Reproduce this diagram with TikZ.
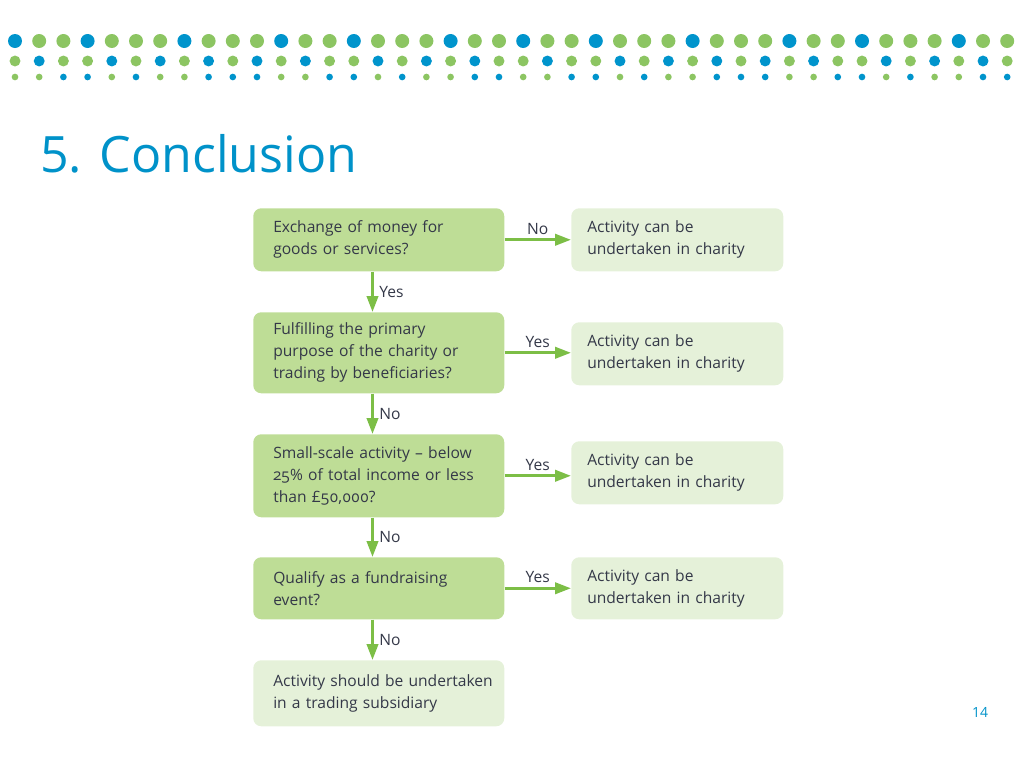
\documentclass[tikz,border=0pt]{standalone}
\usepackage{fontspec}
\setmainfont{Open Sans}[Numbers=OldStyle]
\newfontfamily\headfont{Open Sans}
\usetikzlibrary{arrows.meta}
\definecolor{dotblue}{RGB}{0,148,204}
\definecolor{dotgreen}{RGB}{140,197,98}
\definecolor{qgreen}{RGB}{190,221,150}
\definecolor{rgreen}{RGB}{229,241,217}
\definecolor{flowgreen}{RGB}{124,190,70}
\definecolor{inktext}{RGB}{52,56,72}
\definecolor{headblue}{RGB}{0,146,201}
\newdimen\px \px=0.75pt
\begin{document}
\begin{tikzpicture}[x=0.75pt,y=-0.75pt,
    dotB/.style={fill=dotblue},
    dotG/.style={fill=dotgreen},
    qbox/.style={fill=qgreen,rounded corners=8\px,anchor=north west,align=left,
      text width=211\px,inner xsep=20\px,inner ysep=0pt,text=inktext,
      font=\fontsize{11.7}{16.5}\selectfont},
    qlast/.style={qbox,fill=rgreen},
    rbox/.style={qbox,text width=180\px,inner xsep=16\px,fill=rgreen},
    flow/.style={draw=flowgreen,line width=2.2pt,-{Triangle[length=12pt,width=8.5pt]}},
    lab/.style={text=inktext,font=\fontsize{11.7}{14}\selectfont,inner sep=2pt}]
  \useasboundingbox (0,0) rectangle (1024,768);
  \foreach \c [count=\i from 0] in {B,G,G,B,G,G,G,B,G,G,G,B,G,G,B,G,G,G,B,G,G,B,G,G,B,G,G,G,B,G,G,G,B,G,G,B,G,G,G,B,G,G}
    \fill[dot\c] (15+24.2*\i,41) circle (5.25pt);
  \foreach \c [count=\i from 0] in {G,B,G,G,B,G,B,G,B,G,B,G,B,G,G,B,G,B,G,B,G,G,B,G,G,B,G,B,G,B,G,B,G,B,G,G,B,G,B,G,B,G}
    \fill[dot\c] (15+24.2*\i,61) circle (4.1pt);
  \foreach \c [count=\i from 0] in {G,G,B,B,G,B,G,G,B,B,B,G,G,B,B,G,B,G,G,B,B,G,G,B,B,G,B,G,G,B,B,B,G,G,B,B,G,B,G,G,B,B}
    \fill[dot\c] (15+24.2*\i,77) circle (2.5pt);
  \node[anchor=base west,inner sep=0pt,text=headblue,font=\headfont\fontsize{37.6}{44}\selectfont] (title) at (40,172) {5. Conclusion};
  \node[anchor=base,inner sep=0pt,text=headblue,font=\headfont\fontsize{10.5}{12}\selectfont] (page) at (980,717) {14};
  \coordinate (axis) at (372.5,0);
  \path
    (253,208) node[qbox,minimum height=63\px] (q1) {Exchange of money for\\goods or services?}
    (253,312) node[qbox,minimum height=81\px] (q2) {Fulfilling the primary\\purpose of the charity or\\trading by beneficiaries?}
    (253,434) node[qbox,minimum height=83\px] (q3) {Small-scale activity -- below\\25\% of total income or less\\than £50,000?}
    (253,557) node[qbox,minimum height=62\px] (q4) {Qualify as a fundraising\\event?}
    (253,660) node[qlast,minimum height=66\px] (q5) {\mbox{Activity should be undertaken}\\in a trading subsidiary}
    (571,208) node[rbox,minimum height=63\px] (r1) {Activity can be\\undertaken in charity}
    (571,322) node[rbox,minimum height=63\px] (r2) {Activity can be\\undertaken in charity}
    (571,441) node[rbox,minimum height=63\px] (r3) {Activity can be\\undertaken in charity}
    (571,557) node[rbox,minimum height=62\px] (r4) {Activity can be\\undertaken in charity};
  \begin{scope}[flow]
    \draw (q1.east) -- node[lab,above=1pt] {No} (q1.east -| r1.west);
    \draw (q2.east) -- node[lab,above=1pt] {Yes} (q2.east -| r2.west);
    \draw (q3.east) -- node[lab,above=1pt] {Yes} (q3.east -| r3.west);
    \draw (q4.east) -- node[lab,above=1pt] {Yes} (q4.east -| r4.west);
    \draw (q1.south -| axis) -- node[lab,right=2pt] {Yes} (q2.north -| axis);
    \draw (q2.south -| axis) -- node[lab,right=2pt] {No} (q3.north -| axis);
    \draw (q3.south -| axis) -- node[lab,right=2pt] {No} (q4.north -| axis);
    \draw (q4.south -| axis) -- node[lab,right=2pt] {No} (q5.north -| axis);
  \end{scope}
\end{tikzpicture}
\end{document}
